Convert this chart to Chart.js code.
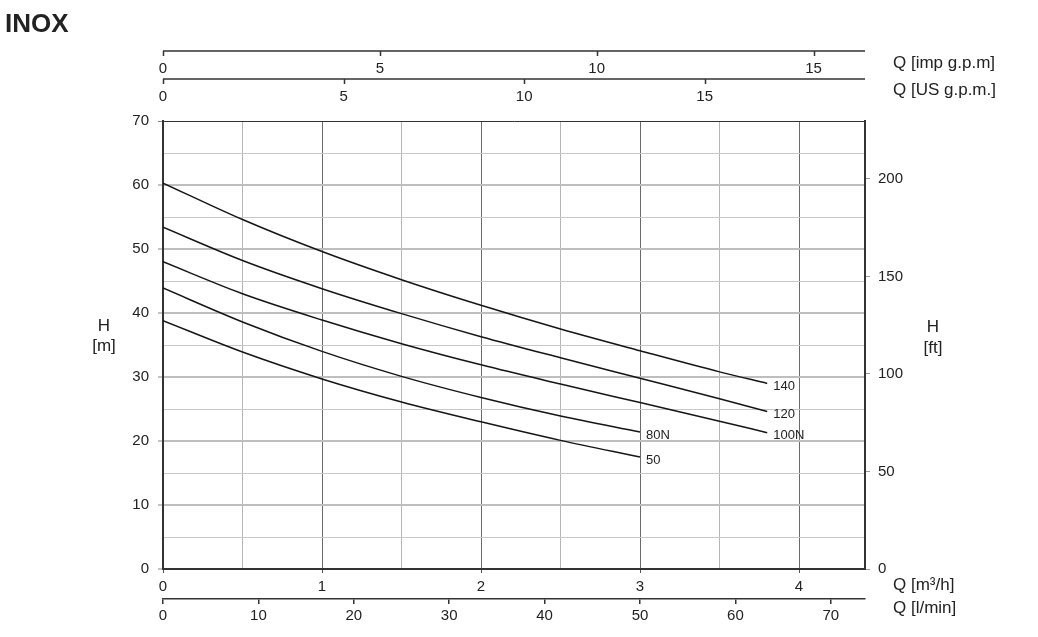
<!DOCTYPE html>
<html>
<head>
<meta charset="utf-8">
<title>INOX</title>
<script src="https://cdn.jsdelivr.net/npm/chart.js@4.4.0/dist/chart.umd.min.js"></script>
<style>
  html, body { margin: 0; padding: 0; background: #fff; }
  #wrap { width: 1038px; height: 637px; }
</style>
</head>
<body>
<div id="wrap"><canvas id="pumpChart" width="1038" height="637"></canvas></div>
<script>
// flow points (m3/h) and head (m)
const flowLong = [0, 0.5, 1, 1.5, 2, 2.5, 3, 3.5, 3.8];
const flowShort = [0, 0.5, 1, 1.5, 2, 2.5, 3];
const head140 = [60.3, 54.6, 49.6, 45.2, 41.2, 37.5, 34.1, 30.8, 29.0];
const head120 = [53.4, 48.2, 43.8, 39.9, 36.3, 33.0, 29.8, 26.6, 24.6];
const head100N = [48.0, 43.0, 38.9, 35.2, 31.9, 28.9, 26.0, 23.1, 21.3];
const head80N = [43.9, 38.6, 34.0, 30.1, 26.8, 23.9, 21.4];
const head50 = [38.8, 33.9, 29.7, 26.1, 23.0, 20.1, 17.5];
const curveNames = ['140', '120', '100N', '80N', '50'];

// axis ranges and unit conversions
const Q_MAX = 4.415;
const H_MAX = 70;
const M_TO_FT = 3.28084;
const M3H_TO_LMIN = 1000 / 60;
const M3H_TO_USGPM = 4.40287;
const M3H_TO_IMPGPM = 3.66615;

const FONT = "'Liberation Sans', Arial, Helvetica, sans-serif";
const INK = '#222';
const AXIS = '#333';

Chart.defaults.font.family = FONT;
Chart.defaults.font.size = 15;
Chart.defaults.color = INK;

const toPoints = (xs, ys) => ys.map((h, i) => ({ x: xs[i], y: h }));

const curves = [
  toPoints(flowLong, head140),
  toPoints(flowLong, head120),
  toPoints(flowLong, head100N),
  toPoints(flowShort, head80N),
  toPoints(flowShort, head50),
];

// top scales drawn like the reference: line on top, ticks pointing down
const topAxisLines = {
  id: 'topAxisLines',
  afterDraw(chart) {
    const { ctx } = chart;
    ['ximp', 'xus'].forEach((id) => {
      const s = chart.scales[id];
      const y = s.top;
      ctx.save();
      ctx.strokeStyle = AXIS;
      ctx.lineWidth = 1.5;
      ctx.beginPath();
      ctx.moveTo(s.left, y);
      ctx.lineTo(s.right, y);
      s.ticks.forEach((t) => {
        const x = Math.round(s.getPixelForValue(t.value)) + 0.5;
        ctx.moveTo(x, y);
        ctx.lineTo(x, y + 5);
      });
      ctx.stroke();
      ctx.restore();
    });
  },
};

const chartTexts = {
  id: 'chartTexts',
  afterDraw(chart) {
    const { ctx, chartArea } = chart;
    ctx.save();
    ctx.fillStyle = INK;
    ctx.textBaseline = 'middle';

    ctx.font = `bold 26px ${FONT}`;
    ctx.textAlign = 'left';
    ctx.fillText('INOX', 5, 25);

    // curve names at the end of each curve
    ctx.font = `13px ${FONT}`;
    chart.data.datasets.forEach((ds, i) => {
      const pts = chart.getDatasetMeta(i).data;
      const last = pts[pts.length - 1];
      ctx.fillText(curveNames[i], last.x + 6, last.y + 3);
    });

    ctx.font = `17px ${FONT}`;
    ctx.textAlign = 'center';
    ctx.fillText('H', 104, 326);
    ctx.fillText('[m]', 104, 346);
    ctx.fillText('H', 933, 327);
    ctx.fillText('[ft]', 933, 348);

    ctx.textAlign = 'left';
    const tx = chartArea.right + 28;
    ctx.fillText('Q [imp g.p.m]', tx, 63);
    ctx.fillText('Q [US g.p.m.]', tx, 90);
    ctx.fillText('Q [m³/h]', tx, 585);
    ctx.fillText('Q [l/min]', tx, 608);
    ctx.restore();
  },
};

const isWhole = (v) => Math.abs(v - Math.round(v)) < 1e-6;

new Chart(document.getElementById('pumpChart'), {
  type: 'line',
  data: {
    datasets: curves.map((pts, i) => ({
      label: curveNames[i],
      data: pts,
      xAxisID: 'x',
      yAxisID: 'y',
      borderColor: '#151515',
      borderWidth: 1.5,
      pointRadius: 0,
      fill: false,
      cubicInterpolationMode: 'monotone',
    })),
  },
  options: {
    responsive: false,
    animation: false,
    layout: { padding: { top: 51, left: 0, right: 0, bottom: 0 } },
    plugins: {
      legend: { display: false },
      tooltip: { enabled: false },
    },
    scales: {
      x: {
        type: 'linear',
        position: 'bottom',
        weight: 0,
        min: 0,
        max: Q_MAX,
        ticks: {
          stepSize: 0.5,
          includeBounds: false,
          autoSkip: false,
          maxRotation: 0,
          padding: 5,
          callback: (v) => (isWhole(v) ? v : ''),
        },
        grid: {
          color: (c) => (isWhole(c.tick.value) ? '#6a6a6a' : '#b5b5b5'),
          lineWidth: 1,
          tickLength: 4,
          tickColor: (c) => (isWhole(c.tick.value) ? '#555' : 'rgba(0,0,0,0)'),
        },
        border: { display: true, color: AXIS, width: 2 },
        afterFit: (s) => { s.height = 30; },
      },
      xl: {
        type: 'linear',
        position: 'bottom',
        weight: 1,
        min: 0,
        max: Q_MAX * M3H_TO_LMIN,
        ticks: { stepSize: 10, includeBounds: false, autoSkip: false, maxRotation: 0, padding: 3 },
        grid: { drawOnChartArea: false, tickLength: 5, tickColor: AXIS, lineWidth: 1.5 },
        border: { display: true, color: AXIS, width: 1.5 },
        afterFit: (s) => { s.height = 38; },
      },
      xus: {
        type: 'linear',
        position: 'top',
        weight: 0,
        min: 0,
        max: Q_MAX * M3H_TO_USGPM,
        ticks: { stepSize: 5, includeBounds: false, autoSkip: false, maxRotation: 0, padding: 15 },
        grid: { drawOnChartArea: false, drawTicks: false },
        border: { display: false },
        afterFit: (s) => { s.height = 42; },
      },
      ximp: {
        type: 'linear',
        position: 'top',
        weight: 1,
        min: 0,
        max: Q_MAX * M3H_TO_IMPGPM,
        ticks: { stepSize: 5, includeBounds: false, autoSkip: false, maxRotation: 0, padding: 1 },
        grid: { drawOnChartArea: false, drawTicks: false },
        border: { display: false },
        afterFit: (s) => { s.height = 28; },
      },
      y: {
        type: 'linear',
        position: 'left',
        min: 0,
        max: H_MAX,
        ticks: {
          stepSize: 5,
          autoSkip: false,
          padding: 9,
          callback: (v) => (v % 10 === 0 ? v : ''),
        },
        grid: {
          color: (c) => {
            if (c.tick.value === H_MAX) return AXIS;
            return c.tick.value % 10 === 0 ? '#bebebe' : '#c8c8c8';
          },
          lineWidth: (c) => (c.tick.value % 10 === 0 && c.tick.value !== H_MAX ? 2 : 1),
          tickLength: 5,
          tickWidth: 1,
          tickColor: (c) => (c.tick.value % 10 === 0 ? '#888' : 'rgba(0,0,0,0)'),
        },
        border: { display: true, color: AXIS, width: 2 },
        afterFit: (s) => { s.width = 163; },
      },
      yft: {
        type: 'linear',
        position: 'right',
        min: 0,
        max: H_MAX * M_TO_FT,
        ticks: { stepSize: 50, includeBounds: false, autoSkip: false, padding: 8 },
        grid: { drawOnChartArea: false, tickLength: 5, tickColor: '#999' },
        border: { display: true, color: AXIS, width: 2 },
        afterFit: (s) => { s.width = 173; },
      },
    },
  },
  plugins: [topAxisLines, chartTexts],
});
</script>
</body>
</html>
